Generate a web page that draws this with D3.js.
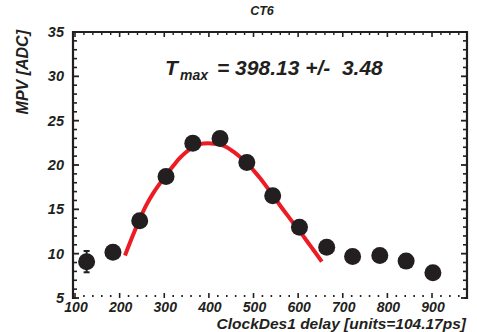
<!DOCTYPE html>
<html>
<head>
<meta charset="utf-8">
<script src="https://cdn.jsdelivr.net/npm/d3@7"></script>
<style>
  html, body { margin: 0; padding: 0; background: #fff; }
  svg { display: block; }
  text { font-family: "Liberation Sans", Arial, Helvetica, sans-serif; font-weight: bold; font-style: italic; fill: #231f20; }
</style>
</head>
<body>
<svg id="chart" width="477" height="332"></svg>
<script>
// ---- data ----
const delay = [126, 185, 245, 304, 364, 425, 485, 543, 603, 664, 722, 783, 842, 902];
const mpv   = [9.1, 10.17, 13.72, 18.71, 22.45, 22.98, 20.28, 16.53, 12.98, 10.73, 9.67, 9.79, 9.16, 7.84];
const mpvErr = [1.2, 0.4, 0.4, 0.4, 0.4, 0.4, 0.4, 0.4, 0.4, 0.4, 0.4, 0.4, 0.4, 0.4];
// fit curve
const fitX = [212, 230, 245, 260, 275, 290, 304, 320, 335, 350, 364, 380, 398, 412, 425, 440, 455, 470, 485, 500, 515, 530, 545, 560, 575, 590, 603, 620, 636, 653];
const fitY = [9.8, 12.1, 13.9, 15.5, 16.8, 17.9, 18.9, 19.9, 20.8, 21.5, 22.0, 22.35, 22.45, 22.4, 22.3, 22.0, 21.5, 20.9, 20.25, 19.4, 18.5, 17.5, 16.5, 15.4, 14.4, 13.4, 12.6, 11.4, 10.3, 9.1];
const xTickLabels = [100, 200, 300, 400, 500, 600, 700, 800, 900];
const yTickLabels = [5, 10, 15, 20, 25, 30, 35];
const titleText = "CT6";
const xTitle = "ClockDes1 delay [units=104.17ps]";
const yTitle = "MPV [ADC]";
const fitLabel = "= 398.13 +/-  3.48";

// ---- layout ----
const L = 73, R = 467, T = 32, B = 298;
const ink = "#231f20";
const svg = d3.select("#chart");
const x = d3.scaleLinear().domain([95.5, 978.4]).range([L, R]);
const y = d3.scaleLinear().domain([5, 35]).range([B, T]);

const xMinor = d3.range(100, 980, 20).filter(v => !xTickLabels.includes(v));
const yMinor = d3.range(5, 36, 1).filter(v => !yTickLabels.includes(v));

// frame lines: left, top, right (bottom line not drawn in reference)
const g = svg.append("g");
g.append("line").attr("x1", L).attr("x2", L).attr("y1", T - 1).attr("y2", B + 1).attr("stroke", ink).attr("stroke-width", 2.2);
g.append("line").attr("x1", L - 1).attr("x2", R + 1).attr("y1", T).attr("y2", T).attr("stroke", ink).attr("stroke-width", 2.2);
g.append("line").attr("x1", R).attr("x2", R).attr("y1", T - 1).attr("y2", B + 1).attr("stroke", ink).attr("stroke-width", 2.2);
g.append("line").attr("x1", L - 1).attr("x2", L + 3).attr("y1", B).attr("y2", B).attr("stroke", ink).attr("stroke-width", 1.6);
g.append("line").attr("x1", R - 3).attr("x2", R + 1).attr("y1", B).attr("y2", B).attr("stroke", ink).attr("stroke-width", 1.6);

// bottom ticks (inward)
g.selectAll(".xbmaj").data(xTickLabels).join("line")
  .attr("x1", d => x(d)).attr("x2", d => x(d)).attr("y1", B).attr("y2", B - 5)
  .attr("stroke", ink).attr("stroke-width", 1.6);
g.selectAll(".xbmin").data(xMinor).join("line")
  .attr("x1", d => x(d)).attr("x2", d => x(d)).attr("y1", B - 1).attr("y2", B - 3)
  .attr("stroke", ink).attr("stroke-width", 1.6);
// top ticks
g.selectAll(".xtmaj").data(xTickLabels).join("line")
  .attr("x1", d => x(d)).attr("x2", d => x(d)).attr("y1", T).attr("y2", T + 5)
  .attr("stroke", ink).attr("stroke-width", 1.6);
g.selectAll(".xtmin").data(xMinor).join("line")
  .attr("x1", d => x(d)).attr("x2", d => x(d)).attr("y1", T).attr("y2", T + 3)
  .attr("stroke", ink).attr("stroke-width", 1.4);
// left ticks
g.selectAll(".ylmaj").data(yTickLabels).join("line")
  .attr("x1", L).attr("x2", L + 6).attr("y1", d => y(d)).attr("y2", d => y(d))
  .attr("stroke", ink).attr("stroke-width", 1.8);
g.selectAll(".ylmin").data(yMinor).join("line")
  .attr("x1", L).attr("x2", L + 4).attr("y1", d => y(d)).attr("y2", d => y(d))
  .attr("stroke", ink).attr("stroke-width", 1.6);
// right ticks
g.selectAll(".yrmaj").data(yTickLabels).join("line")
  .attr("x1", R).attr("x2", R - 6).attr("y1", d => y(d)).attr("y2", d => y(d))
  .attr("stroke", ink).attr("stroke-width", 1.8);
g.selectAll(".yrmin").data(yMinor).join("line")
  .attr("x1", R).attr("x2", R - 4).attr("y1", d => y(d)).attr("y2", d => y(d))
  .attr("stroke", ink).attr("stroke-width", 1.6);

// tick labels
svg.selectAll(".xl").data(xTickLabels).join("text")
  .attr("x", d => x(d) + 1).attr("y", B + 14).attr("text-anchor", "middle")
  .attr("font-size", 14).text(d => d);
svg.selectAll(".yl").data(yTickLabels).join("text")
  .attr("x", L - 9).attr("y", d => y(d) + 5).attr("text-anchor", "end")
  .attr("font-size", 14.5).text(d => d);

// titles
svg.append("text").attr("x", 262).attr("y", 15).attr("text-anchor", "middle").attr("font-size", 12.5).text(titleText);
svg.append("text").attr("x", R - 1).attr("y", 329).attr("text-anchor", "end").attr("font-size", 15.5).text(xTitle);
svg.append("text").attr("transform", `translate(28,${T - 2}) rotate(-90)`).attr("text-anchor", "end").attr("font-size", 16).text(yTitle);

// fit curve
const pts = fitX.map((v, i) => [v, fitY[i]]);
svg.append("path").datum(pts)
  .attr("d", d3.line().x(d => x(d[0])).y(d => y(d[1])).curve(d3.curveCatmullRom))
  .attr("fill", "none").attr("stroke", "#ed1c24").attr("stroke-width", 4);

// error bars + markers
const data = delay.map((v, i) => ({ x: v, y: mpv[i], e: mpvErr[i] }));
svg.selectAll(".eb").data(data).join("line")
  .attr("x1", d => x(d.x)).attr("x2", d => x(d.x))
  .attr("y1", d => y(d.y - d.e)).attr("y2", d => y(d.y + d.e))
  .attr("stroke", ink).attr("stroke-width", 2);
svg.selectAll(".ebc1").data(data).join("line")
  .attr("x1", d => x(d.x) - 3).attr("x2", d => x(d.x) + 3)
  .attr("y1", d => y(d.y - d.e)).attr("y2", d => y(d.y - d.e))
  .attr("stroke", ink).attr("stroke-width", 2);
svg.selectAll(".ebc2").data(data).join("line")
  .attr("x1", d => x(d.x) - 3).attr("x2", d => x(d.x) + 3)
  .attr("y1", d => y(d.y + d.e)).attr("y2", d => y(d.y + d.e))
  .attr("stroke", ink).attr("stroke-width", 2);
svg.selectAll(".pt").data(data).join("circle")
  .attr("cx", d => x(d.x)).attr("cy", d => y(d.y)).attr("r", 8.5).attr("fill", ink);

// fit result annotation
svg.append("text").attr("x", 165).attr("y", 74.5).attr("font-size", 21).text("T");
svg.append("text").attr("x", 180).attr("y", 80).attr("font-size", 14).text("max");
svg.append("text").attr("x", 217).attr("y", 74.5).attr("font-size", 21).style("white-space", "pre").text(fitLabel);
</script>
</body>
</html>
